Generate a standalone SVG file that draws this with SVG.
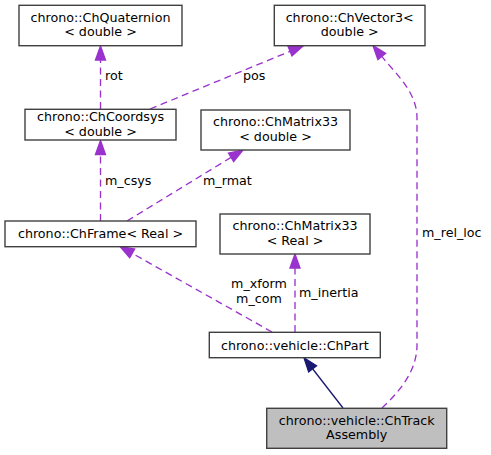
<svg xmlns="http://www.w3.org/2000/svg" width="491" height="455" viewBox="0 0 491 455">
<style>
text{font-family:"DejaVu Sans","Liberation Sans",sans-serif;font-size:12.7px;fill:#000}
.n rect{fill:#fff;stroke:#404040;stroke-width:1.4}
.n text{text-anchor:middle}
.n.cur rect{fill:#bfbfbf}
.e{fill:none;stroke:#9a32cd;stroke-width:1.33;stroke-dasharray:7,4.5}
.i{fill:none;stroke:#191970;stroke-width:1.33}
</style>
<defs>
<marker id="ap" markerUnits="userSpaceOnUse" markerWidth="15" markerHeight="11" refX="0" refY="5" orient="auto" overflow="visible">
<path d="M0,0 L14,5 L0,10 z" fill="#9a32cd" stroke="#9a32cd" stroke-width="1.33"/>
</marker>
<marker id="an" markerUnits="userSpaceOnUse" markerWidth="15" markerHeight="11" refX="0" refY="5" orient="auto" overflow="visible">
<path d="M0,0 L14,5 L0,10 z" fill="#191970" stroke="#191970" stroke-width="1.33"/>
</marker>
</defs>
<g id="connectors">
<path class="e" d="M100.5,109 L100.5,60" marker-end="url(#ap)"/>
<path class="e" d="M150,109 L290.06,51.33" marker-end="url(#ap)"/>
<path class="e" d="M100.5,221 L100.5,154.5" marker-end="url(#ap)"/>
<path class="e" d="M127,221 L231.06,157.31" marker-end="url(#ap)"/>
<path class="e" d="M272,332 L132.2,253.36" marker-end="url(#ap)"/>
<path class="e" d="M295,332 L295,268" marker-end="url(#ap)"/>
<path class="i" d="M343,408 L312.58,368.76" marker-end="url(#an)"/>
<path class="e" d="M382,408 C398,393 417,372 417,345 L417,118 C417,92 396,74 381.75,56.4" marker-end="url(#ap)"/>
<text x="105" y="80">rot</text>
<text x="243" y="80">pos</text>
<text x="105" y="185">m_csys</text>
<text x="203" y="185">m_rmat</text>
<text x="259" y="288" text-anchor="middle">m_xform</text>
<text x="259" y="303" text-anchor="middle">m_com</text>
<text x="299" y="297">m_inertia</text>
<text x="422" y="237">m_rel_loc</text>
</g>
<g id="quaternion" class="n"><rect x="19" y="5.3" width="163" height="40.4"/><text x="100.5" y="21.7">chrono::ChQuaternion</text><text x="100.5" y="36.3">&lt; double &gt;</text></g>
<g id="vector3" class="n"><rect x="274.3" y="5.3" width="150.7" height="40.4"/><text x="349.7" y="21.7">chrono::ChVector3&lt;</text><text x="349.7" y="36.3"> double &gt;</text></g>
<g id="coordsys" class="n"><rect x="25" y="109.3" width="151" height="30.7"/><text x="100.5" y="121">chrono::ChCoordsys</text><text x="100.5" y="135.5">&lt; double &gt;</text></g>
<g id="matrix33d" class="n"><rect x="201" y="110" width="149" height="40"/><text x="275.5" y="126.4">chrono::ChMatrix33</text><text x="275.5" y="141">&lt; double &gt;</text></g>
<g id="frame" class="n"><rect x="5" y="221" width="191" height="25.7"/><text x="100.5" y="238.3">chrono::ChFrame&lt; Real &gt;</text></g>
<g id="matrix33r" class="n"><rect x="220" y="214" width="150" height="40"/><text x="295" y="230.4">chrono::ChMatrix33</text><text x="295" y="245">&lt; Real &gt;</text></g>
<g id="part" class="n"><rect x="209.3" y="332.3" width="171" height="25.4"/><text x="294.8" y="349.5">chrono::vehicle::ChPart</text></g>
<g id="trackassembly" class="n cur"><rect x="266.7" y="408.3" width="180" height="40"/><text x="356.7" y="424.7">chrono::vehicle::ChTrack</text><text x="356.7" y="439.3">Assembly</text></g>
</svg>
